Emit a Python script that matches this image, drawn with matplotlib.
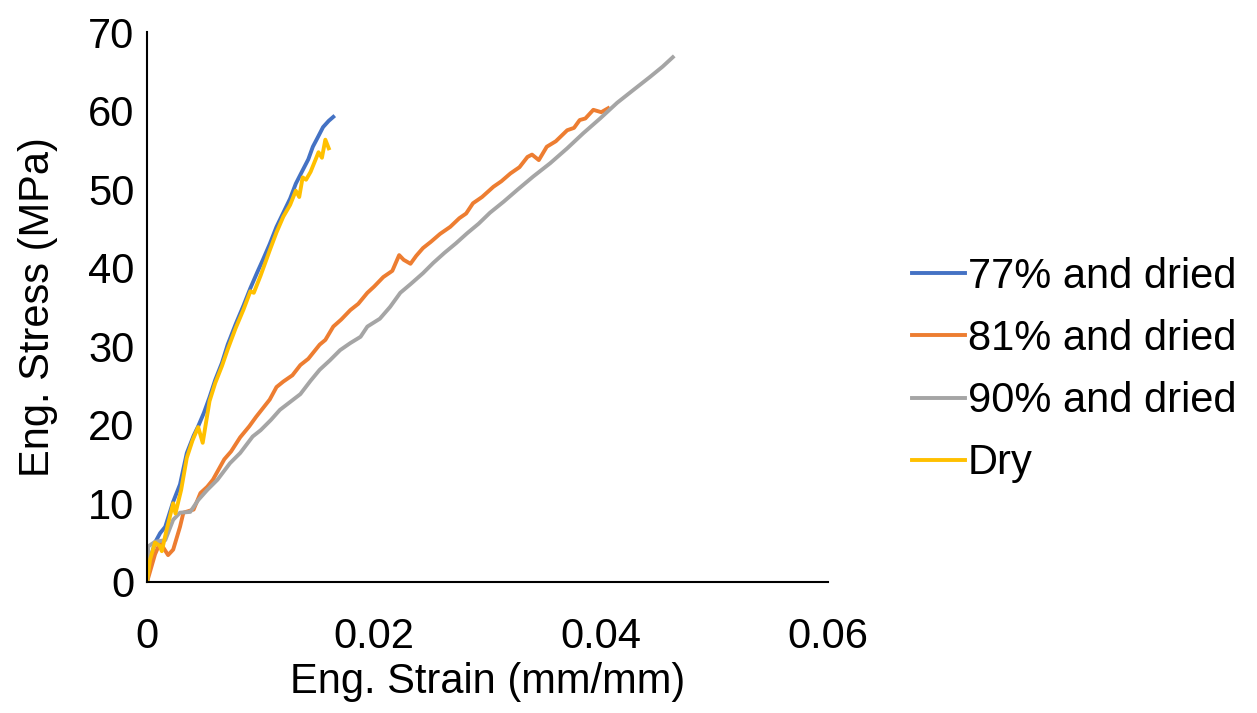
import matplotlib.pyplot as plt

plt.rcParams['font.family'] = ['Liberation Sans', 'DejaVu Sans']

# strain (mm/mm) / stress (MPa)
strain_77 = [0, 0.00026, 0.0007, 0.00115, 0.0016, 0.0023, 0.0029, 0.0035, 0.0041, 0.0045, 0.0050,
             0.0055, 0.0060, 0.0066, 0.0071, 0.0078, 0.0085, 0.0091, 0.0097, 0.0102, 0.0108,
             0.0114, 0.0120, 0.0126, 0.0131, 0.0137, 0.0142, 0.0146, 0.0150, 0.0155, 0.0160, 0.0164]
stress_77 = [0, 2.8, 5.0, 6.2, 7.0, 10.2, 12.4, 16.4, 18.6, 19.8, 21.5,
             23.5, 25.7, 27.9, 30.2, 32.8, 35.2, 37.4, 39.4, 41.0, 43.0,
             45.2, 47.0, 48.8, 50.7, 52.4, 53.8, 55.4, 56.5, 57.9, 58.7, 59.2]

strain_81 = [0, 0.0003, 0.0007, 0.00115, 0.0015, 0.00185, 0.0023, 0.0029, 0.0032, 0.0041, 0.0047,
             0.0053, 0.0058, 0.0063, 0.0068, 0.0074, 0.0082, 0.0090, 0.0096, 0.0102, 0.0108,
             0.0114, 0.0120, 0.0128, 0.0135, 0.0142, 0.0152, 0.0157, 0.0164, 0.0171, 0.0179,
             0.0186, 0.0194, 0.0200, 0.0208, 0.0216, 0.0222, 0.0226, 0.0232, 0.0237, 0.0243,
             0.0250, 0.0258, 0.0267, 0.0275, 0.0281, 0.0287, 0.0295, 0.0305, 0.0312, 0.0320,
             0.0328, 0.0335, 0.0339, 0.0345, 0.0352, 0.0360, 0.0370, 0.0376, 0.0381, 0.0386,
             0.0393, 0.0400, 0.0406]
stress_81 = [0, 1.5, 3.5, 5.0, 4.2, 3.4, 4.1, 7.0, 8.8, 9.2, 11.3,
             12.1, 13.0, 14.3, 15.6, 16.6, 18.4, 19.8, 21.0, 22.1, 23.2,
             24.8, 25.5, 26.3, 27.6, 28.4, 30.2, 30.8, 32.5, 33.4, 34.6,
             35.4, 36.8, 37.6, 38.8, 39.6, 41.6, 41.0, 40.5, 41.5, 42.5,
             43.3, 44.3, 45.2, 46.3, 46.9, 48.2, 49.0, 50.3, 51.0, 52.0,
             52.8, 54.1, 54.4, 53.7, 55.4, 56.1, 57.5, 57.8, 58.8, 59.0,
             60.1, 59.8, 60.3]

strain_90 = [0, 0.0001, 0.0007, 0.0016, 0.0023, 0.0029, 0.0038, 0.0045, 0.0053, 0.0062, 0.0073,
             0.0082, 0.0093, 0.0100, 0.0109, 0.0117, 0.0126, 0.0135, 0.0144, 0.0152, 0.0161,
             0.0170, 0.0179, 0.0188, 0.0194, 0.0205, 0.0214, 0.0223, 0.0232, 0.0243, 0.0252,
             0.0262, 0.0272, 0.0282, 0.0292, 0.0302, 0.0314, 0.0326, 0.0340, 0.0355, 0.0370,
             0.0384, 0.0399, 0.0414, 0.0428, 0.0443, 0.0454, 0.0463]
stress_90 = [0, 4.5, 5.1, 5.3, 7.9, 8.8, 8.9, 10.4, 11.7, 13.0, 15.1,
             16.4, 18.5, 19.3, 20.6, 21.9, 22.9, 23.9, 25.6, 27.0, 28.2,
             29.5, 30.4, 31.2, 32.5, 33.5, 35.0, 36.8, 37.9, 39.3, 40.6,
             41.9, 43.1, 44.4, 45.6, 47.0, 48.4, 49.9, 51.6, 53.3, 55.2,
             57.1, 59.0, 61.0, 62.6, 64.3, 65.6, 66.8]

strain_dry = [0, 0.00026, 0.0007, 0.0011, 0.0013, 0.0017, 0.0023, 0.0025, 0.0030, 0.0035, 0.0040,
              0.0045, 0.0049, 0.0055, 0.0060, 0.0066, 0.0071, 0.0078, 0.0085, 0.0091, 0.0094,
              0.0100, 0.0108, 0.0114, 0.0120, 0.0126, 0.0131, 0.0134, 0.0137, 0.0140, 0.0144,
              0.0151, 0.0154, 0.0157, 0.0160]
stress_dry = [0, 2.8, 5.0, 4.6, 3.9, 6.5, 10.0, 8.7, 11.7, 15.8, 18.0,
              19.7, 17.7, 23.0, 25.3, 27.5, 29.6, 32.3, 34.7, 37.0, 36.8,
              39.0, 42.2, 44.5, 46.5, 48.0, 49.8, 49.0, 51.5, 51.2, 52.2,
              54.7, 54.0, 56.3, 55.2]

labels = ['77% and dried', '81% and dried', '90% and dried', 'Dry']
colors = ['#4472C4', '#ED7D31', '#A5A5A5', '#FFC000']

fig = plt.figure(figsize=(12.57, 7.13), dpi=100)
ax = fig.add_axes([0.117, 0.184, 0.542, 0.771])

series = [(strain_77, stress_77), (strain_81, stress_81), (strain_90, stress_90), (strain_dry, stress_dry)]
for (x, y), lab, c in zip(series, labels, colors):
    ax.plot(x, y, color=c, lw=2.8, label=lab, solid_joinstyle='round')

ax.set_xlim(0, 0.06)
ax.set_ylim(0, 70)
ax.set_xticks([0, 0.02, 0.04, 0.06])
ax.set_xticklabels(['0', '0.02', '0.04', '0.06'])
ax.set_yticks(range(0, 71, 10))
ax.tick_params(length=0, labelsize=30)
ax.tick_params(axis='y', pad=9)
ax.tick_params(axis='x', pad=25)
for s in ['top', 'right']:
    ax.spines[s].set_visible(False)
for s in ['left', 'bottom']:
    ax.spines[s].set_linewidth(1.5)
    ax.spines[s].set_color('black')

ax.set_xlabel('Eng. Strain (mm/mm)', fontsize=30, labelpad=4)
ax.set_ylabel('Eng. Stress (MPa)', fontsize=30, labelpad=22)

fig.legend(loc='center left', bbox_to_anchor=(0.7255, 0.481), frameon=False, fontsize=30,
           handlelength=1.27, handletextpad=0.07, labelspacing=0.53, borderpad=0, borderaxespad=0)

fig.savefig('out.png', dpi=100)
